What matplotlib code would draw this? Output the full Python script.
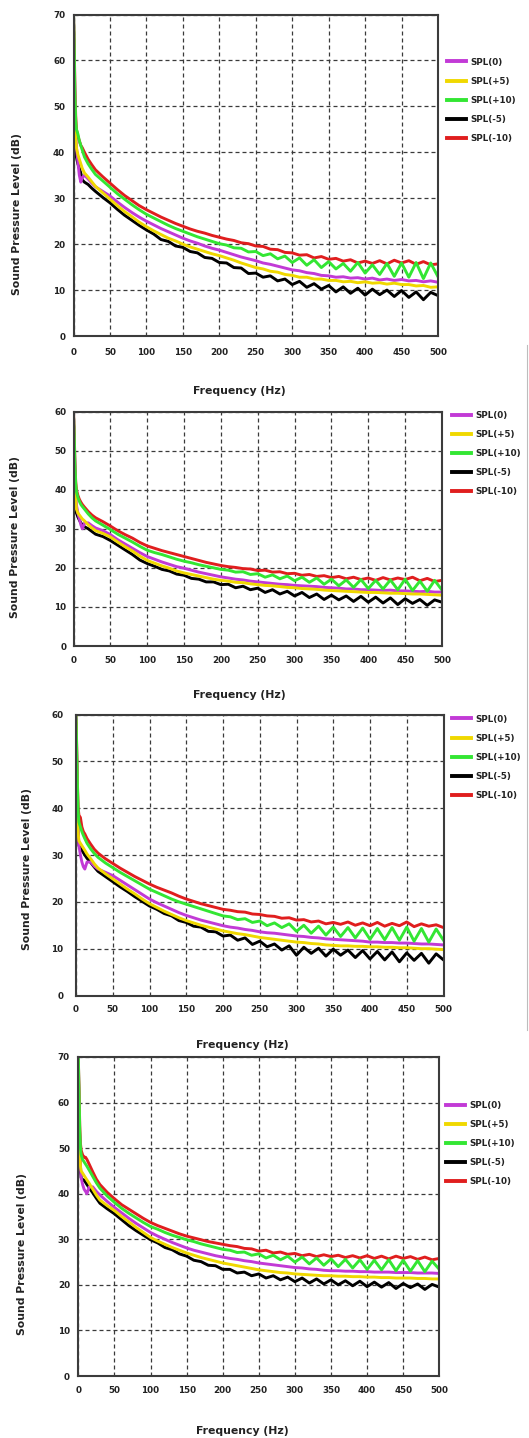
import matplotlib
matplotlib.use('Agg')
import matplotlib.pyplot as plt
from matplotlib.lines import Line2D

W, H = 529, 1438

FREQ = [0, 1, 2, 3, 4, 6, 8, 10, 12, 15, 20, 25, 30,
        40, 50, 60, 70, 80, 90, 100, 110, 120, 130, 140, 150, 160, 170, 180, 190, 200,
        210, 220, 230, 240, 250, 260, 270, 280, 290, 300, 310, 320, 330, 340, 350,
        360, 370, 380, 390, 400, 410, 420, 430, 440, 450, 460, 470, 480, 490, 500]

LABELS = ['SPL(0)', 'SPL(+5)', 'SPL(+10)', 'SPL(-5)', 'SPL(-10)']
X_TICKS = [0, 50, 100, 150, 200, 250, 300, 350, 400, 450, 500]
Y_MAX = [70, 60, 60, 70]

# ---- panel 1 ----
P1_SPL0 = [70, 60, 50, 44, 41, 38, 35, 33.5, 34.5, 35, 34.2, 33.3, 32.5,
           31.5, 30.5, 29.2, 28.0, 26.9, 25.9, 25.0, 24.2, 23.4, 22.7, 22.0, 21.3, 20.7, 20.2, 19.6, 19.1, 18.7,
           18.2, 17.7, 17.2, 16.8, 16.4, 15.9, 15.6, 15.2, 14.8, 14.4, 14.2, 13.8, 13.6, 13.2, 13.1,
           12.8, 12.9, 12.6, 12.7, 12.4, 12.6, 12.2, 12.4, 12.1, 12.3, 12.0, 12.1, 11.8, 12.0, 11.7]
P1_SPLP5 = [69, 58, 48, 43, 41, 39.5, 38.5, 37.5, 36.5, 35.5, 34.6, 33.6, 32.6,
            31.2, 29.8, 28.4, 27.1, 26.0, 24.8, 23.8, 22.9, 22.1, 21.3, 20.7, 20.0, 19.4, 18.9, 18.4, 17.9, 17.5,
            17.0, 16.5, 15.9, 15.4, 14.9, 14.6, 14.1, 13.9, 13.4, 13.2, 12.8, 12.8, 12.4, 12.4, 12.1,
            12.1, 11.8, 11.9, 11.6, 11.8, 11.5, 11.6, 11.3, 11.5, 11.2, 11.2, 10.9, 11.0, 10.6, 10.7]
P1_SPLP10 = [70.5, 62, 52, 47, 45, 44, 42.5, 41.5, 40.5, 39, 37.5, 36.3, 35.2,
             33.8, 32.4, 31.0, 29.8, 28.6, 27.5, 26.5, 25.7, 24.9, 24.1, 23.4, 22.8, 22.2, 21.6, 21.1, 20.6, 20.1,
             19.8, 19.2, 19.1, 18.3, 18.4, 17.5, 17.9, 16.8, 17.4, 16.0, 17.0, 15.4, 16.6, 14.9, 16.2,
             14.6, 15.8, 14.1, 16.0, 13.7, 15.5, 13.4, 15.8, 13.0, 15.9, 12.8, 16.0, 12.5, 15.9, 12.9]
P1_SPLM5 = [68, 57, 47, 42, 39, 37.5, 36.5, 35.5, 34, 33.5, 33, 32.2, 31.5,
            30.2, 29.0, 27.6, 26.3, 25.2, 24.1, 23.1, 22.2, 21.0, 20.6, 19.6, 19.3, 18.4, 18.1, 17.1, 16.9, 16.0,
            15.9, 14.9, 14.8, 13.6, 13.7, 12.8, 13.1, 12.0, 12.4, 11.2, 11.9, 10.6, 11.4, 10.2, 11.0,
            9.6, 10.7, 9.3, 10.4, 8.9, 10.2, 9.0, 10.0, 8.6, 9.9, 8.4, 9.6, 7.9, 9.5, 8.8]
P1_SPLM10 = [70, 63, 54, 48, 45, 43.5, 42.5, 41.5, 41, 40, 38.5, 37.3, 36.2,
             34.7, 33.3, 31.9, 30.6, 29.5, 28.4, 27.5, 26.7, 25.9, 25.2, 24.5, 23.9, 23.3, 22.8, 22.4, 21.9, 21.5,
             21.1, 20.8, 20.3, 20.1, 19.6, 19.5, 18.9, 18.8, 18.2, 18.1, 17.6, 17.7, 17.0, 17.3, 16.7,
             16.9, 16.3, 16.6, 15.9, 16.3, 15.8, 16.4, 15.7, 16.5, 15.9, 16.4, 15.6, 16.2, 15.5, 15.7]

# ---- panel 2 ----
P2_SPL0 = [59, 52, 44, 39, 36, 34, 32.5, 31, 30, 31.5, 31.5, 30.8, 30.2,
           29.5, 28.5, 27.2, 26.1, 25.0, 23.9, 22.9, 22.2, 21.5, 20.9, 20.3, 19.9, 19.4, 18.9, 18.5, 18.1, 17.7,
           17.4, 17.1, 16.9, 16.6, 16.4, 16.2, 16.0, 15.8, 15.7, 15.5, 15.4, 15.3, 15.2, 15.0, 14.9,
           14.8, 14.6, 14.6, 14.4, 14.4, 14.3, 14.2, 14.3, 14.1, 14.1, 14.0, 13.9, 14.0, 13.8, 13.8]
P2_SPLP5 = [58.5, 50, 42, 37.5, 35, 34, 33.5, 33, 32.5, 32, 31, 30.2, 29.5,
            28.8, 27.9, 26.6, 25.4, 24.3, 23.0, 21.9, 21.2, 20.5, 19.9, 19.2, 18.7, 18.3, 17.9, 17.5, 17.1, 16.8,
            16.6, 16.3, 16.2, 15.9, 15.7, 15.5, 15.4, 15.2, 15.0, 14.9, 14.7, 14.6, 14.5, 14.3, 14.2,
            14.1, 14.0, 13.9, 13.8, 13.7, 13.7, 13.6, 13.5, 13.5, 13.4, 13.3, 13.3, 13.2, 13.1, 13.0]
P2_SPLP10 = [59.5, 53, 46, 41.5, 39.5, 38, 37, 36.2, 35.7, 35, 33.8, 32.8, 32,
             30.9, 29.8, 28.6, 27.6, 26.6, 25.5, 24.5, 23.9, 23.4, 22.8, 22.2, 21.7, 21.3, 20.8, 20.4, 20.0, 19.6,
             19.4, 18.9, 19.0, 18.3, 18.5, 17.6, 18.2, 17.2, 17.9, 16.7, 17.6, 16.3, 17.4, 15.8, 17.1,
             15.4, 16.9, 15.0, 17.0, 14.7, 16.8, 14.6, 16.9, 14.4, 17.1, 14.2, 16.6, 14.0, 16.8, 14.3]
P2_SPLM5 = [58, 49, 41, 36.5, 34, 33, 32.2, 31.5, 31, 30.5, 30, 29.3, 28.6,
            28.0, 27.0, 25.8, 24.6, 23.4, 22.0, 21.1, 20.4, 19.6, 19.2, 18.4, 18.1, 17.3, 17.1, 16.4, 16.4, 15.7,
            15.8, 14.9, 15.3, 14.4, 14.8, 13.7, 14.4, 13.3, 14.0, 12.8, 13.7, 12.4, 13.3, 11.9, 13.0,
            11.8, 12.8, 11.4, 12.7, 11.2, 12.5, 11.0, 12.3, 10.6, 12.1, 10.9, 11.9, 10.4, 11.8, 11.2]
P2_SPLM10 = [60, 54, 47, 42, 40, 38.5, 37.5, 36.8, 36.2, 35.5, 34.4, 33.5, 32.8,
             31.8, 30.7, 29.5, 28.5, 27.6, 26.5, 25.6, 25.0, 24.4, 23.9, 23.4, 22.9, 22.4, 21.9, 21.4, 21.0, 20.6,
             20.3, 20.1, 19.8, 19.7, 19.3, 19.4, 18.9, 19.0, 18.5, 18.6, 18.1, 18.3, 17.8, 18.0, 17.5,
             17.8, 17.2, 17.6, 17.0, 17.4, 16.8, 17.5, 16.9, 17.4, 17.0, 17.6, 16.7, 17.3, 16.5, 16.8]

# ---- panel 3 ----
P3_SPL0 = [59, 50, 41, 35, 32, 30, 28.5, 27.5, 27, 28.5, 28.5, 27.6, 27,
           26.3, 25.6, 24.6, 23.6, 22.6, 21.6, 20.6, 19.8, 19.1, 18.4, 17.7, 17.1, 16.6, 16.1, 15.7, 15.3, 14.9,
           14.6, 14.4, 14.1, 13.9, 13.6, 13.4, 13.3, 13.1, 12.9, 12.7, 12.6, 12.4, 12.3, 12.1, 12.0,
           11.9, 11.8, 11.7, 11.6, 11.4, 11.4, 11.3, 11.3, 11.2, 11.2, 11.1, 11.0, 11.0, 10.9, 10.8]
P3_SPLP5 = [58.5, 49, 40, 34.5, 33, 32.5, 32, 31.5, 31, 30.2, 29.2, 28.1, 27.2,
            26.0, 24.9, 23.8, 22.7, 21.7, 20.6, 19.6, 18.8, 18.0, 17.3, 16.6, 16.0, 15.5, 15.0, 14.6, 14.2, 13.8,
            13.5, 13.2, 13.0, 12.7, 12.4, 12.2, 12.0, 11.8, 11.6, 11.4, 11.3, 11.1, 11.0, 10.8, 10.7,
            10.6, 10.6, 10.5, 10.5, 10.4, 10.4, 10.3, 10.3, 10.2, 10.2, 10.1, 10.0, 10.0, 9.9, 9.8]
P3_SPLP10 = [59.5, 52, 44, 39, 37, 36, 35, 34.2, 33.5, 32.5, 31.3, 30.3, 29.5,
             28.3, 27.3, 26.3, 25.4, 24.5, 23.6, 22.7, 22.0, 21.3, 20.6, 20.0, 19.5, 19.0, 18.5, 18.0, 17.5, 17.0,
             16.8, 16.2, 16.4, 15.6, 15.9, 14.9, 15.5, 14.5, 15.3, 13.7, 15.0, 13.3, 14.8, 12.9, 14.6,
             12.6, 14.5, 12.3, 14.4, 12.0, 14.3, 11.9, 14.5, 11.8, 14.6, 11.6, 14.3, 11.4, 14.2, 11.8]
P3_SPLM5 = [58, 48, 39, 34, 32, 31.5, 31, 30.5, 30, 29.3, 28.4, 27.4, 26.5,
            25.4, 24.3, 23.2, 22.2, 21.1, 20.1, 19.1, 18.4, 17.5, 17.0, 16.0, 15.6, 14.8, 14.6, 13.7, 13.6, 12.7,
            12.9, 11.8, 12.3, 10.9, 11.6, 10.4, 11.0, 9.7, 10.6, 8.6, 10.3, 9.0, 10.1, 8.4, 9.9,
            8.6, 9.7, 8.1, 9.6, 7.8, 9.4, 7.6, 9.3, 7.2, 9.1, 7.5, 9.0, 6.9, 8.9, 7.6]
P3_SPLM10 = [60, 53, 45, 40, 38.5, 38, 36, 35, 34.5, 33.5, 32.3, 31.2, 30.4,
             29.2, 28.2, 27.2, 26.3, 25.4, 24.6, 23.8, 23.1, 22.5, 21.9, 21.2, 20.6, 20.1, 19.6, 19.2, 18.8, 18.4,
             18.2, 17.9, 17.8, 17.4, 17.3, 17.0, 16.9, 16.5, 16.6, 16.1, 16.2, 15.7, 15.9, 15.3, 15.6,
             15.2, 15.7, 15.0, 15.5, 14.9, 15.6, 14.8, 15.4, 14.9, 15.7, 14.7, 15.3, 14.8, 15.1, 14.5]

# ---- panel 4 ----
P4_SPL0 = [69.5, 60, 51, 46, 43.5, 42, 41, 40.5, 40, 41.5, 41.5, 40.5, 39.7,
           38.3, 37.0, 35.8, 34.6, 33.5, 32.5, 31.5, 30.7, 30.0, 29.3, 28.7, 28.1, 27.6, 27.2, 26.8, 26.4, 26.1,
           25.8, 25.6, 25.3, 25.1, 24.8, 24.6, 24.4, 24.2, 24.0, 23.8, 23.7, 23.5, 23.4, 23.2, 23.1,
           23.1, 23.0, 23.0, 22.9, 22.9, 22.8, 22.8, 22.8, 22.7, 22.7, 22.7, 22.6, 22.6, 22.6, 22.5]
P4_SPLP5 = [69, 59, 50, 46, 45, 44.5, 44, 43.5, 43, 42.3, 41, 39.7, 38.6,
            37.4, 36.3, 35.0, 33.8, 32.6, 31.5, 30.4, 29.6, 28.9, 28.2, 27.6, 27.0, 26.5, 26.0, 25.6, 25.2, 24.8,
            24.5, 24.2, 23.9, 23.6, 23.3, 23.1, 22.9, 22.7, 22.6, 22.4, 22.3, 22.2, 22.1, 22.0, 22.0,
            21.9, 21.9, 21.8, 21.8, 21.7, 21.7, 21.6, 21.6, 21.5, 21.5, 21.5, 21.4, 21.4, 21.3, 21.3]
P4_SPLP10 = [70.5, 62, 54, 50, 48.5, 47.5, 47, 46.5, 46, 45.2, 43.8, 42.4, 41.2,
             39.5, 38.1, 36.8, 35.7, 34.7, 33.7, 32.8, 32.2, 31.5, 30.9, 30.4, 29.9, 29.5, 29.0, 28.6, 28.2, 27.8,
             27.6, 27.1, 27.2, 26.5, 26.8, 25.9, 26.5, 25.5, 26.3, 25.0, 26.1, 24.6, 25.9, 24.3, 25.7,
             24.0, 25.6, 23.7, 25.5, 23.4, 25.4, 23.3, 25.5, 23.1, 25.4, 23.0, 25.3, 22.9, 25.2, 23.4]
P4_SPLM5 = [68, 58, 49, 45, 43.5, 43, 43, 42.5, 42, 41.3, 40.2, 39, 37.9,
            36.7, 35.6, 34.3, 33.0, 31.9, 30.9, 29.9, 29.2, 28.2, 27.7, 26.8, 26.3, 25.4, 25.1, 24.3, 24.2, 23.4,
            23.4, 22.6, 22.8, 22.0, 22.4, 21.5, 22.0, 21.1, 21.7, 20.7, 21.5, 20.4, 21.3, 20.2, 21.1,
            20.0, 20.9, 19.8, 20.8, 19.6, 20.6, 19.5, 20.5, 19.2, 20.3, 19.4, 20.2, 19.0, 20.1, 19.5]
P4_SPLM10 = [70, 63, 55, 51, 49.5, 48.5, 48, 48, 47.5, 46.5, 44.8, 43.2, 42,
             40.3, 38.9, 37.6, 36.6, 35.6, 34.6, 33.7, 33.0, 32.4, 31.8, 31.2, 30.7, 30.3, 29.9, 29.5, 29.2, 28.9,
             28.6, 28.4, 28.0, 27.9, 27.4, 27.6, 27.0, 27.2, 26.7, 26.9, 26.4, 26.7, 26.2, 26.6, 26.2,
             26.5, 26.0, 26.4, 25.9, 26.4, 25.8, 26.3, 25.7, 26.3, 25.8, 26.2, 25.6, 26.1, 25.5, 25.8]

PANELS = [
    [P1_SPL0, P1_SPLP5, P1_SPLP10, P1_SPLM5, P1_SPLM10],
    [P2_SPL0, P2_SPLP5, P2_SPLP10, P2_SPLM5, P2_SPLM10],
    [P3_SPL0, P3_SPLP5, P3_SPLP10, P3_SPLM5, P3_SPLM10],
    [P4_SPL0, P4_SPLP5, P4_SPLP10, P4_SPLM5, P4_SPLM10],
]

COLORS = ['#c23ad6', '#f0d800', '#33e633', '#000000', '#e01e1e']
ZORDERS = [2.2, 2.3, 2.4, 2.0, 2.1]

# layout in pixels: (left, top, right, bottom), ylabel (x, y), xlabel (x, y), legend anchor (x, y), xpad, ypad
LAYOUT = [
    dict(box=(73.5, 14.5, 438, 336), ylab=(17, 214), xlab=(239.5, 390.5), leg=(447, 57.5), xpad=8.5, ypad=6),
    dict(box=(73.5, 411.5, 442, 646), ylab=(15, 537), xlab=(239.5, 695), leg=(452, 411), xpad=7, ypad=5),
    dict(box=(76, 714.5, 443.5, 995.5), ylab=(27, 869), xlab=(242, 1045), leg=(452, 714.5), xpad=6.5, ypad=9),
    dict(box=(78.3, 1057, 439.3, 1376), ylab=(22, 1254), xlab=(242, 1431), leg=(446, 1101), xpad=7.5, ypad=6),
]

TXT = '#222222'
GRIDC = '#3a3a3a'

fig = plt.figure(figsize=(W / 100, H / 100), dpi=100)
fig.patch.set_facecolor('white')

for pi, (series, lay, ymax) in enumerate(zip(PANELS, LAYOUT, Y_MAX)):
    l, t, r, b = lay['box']
    ax = fig.add_axes([l / W, 1 - b / H, (r - l) / W, (b - t) / H])
    handles = []
    for vals, col, zo, lab in zip(series, COLORS, ZORDERS, LABELS):
        ax.plot(FREQ, vals, color=col, lw=2.1, zorder=zo, solid_joinstyle='round')
        handles.append(Line2D([], [], color=col, lw=2.8, label=lab))
    ax.set_xlim(0, 500)
    ax.set_ylim(0, ymax)
    ax.set_xticks(X_TICKS)
    ax.set_yticks(list(range(0, ymax + 1, 10)))
    ax.grid(True, color=GRIDC, lw=0.9, ls=(0, (3.2, 2.4)), zorder=1)
    ax.set_axisbelow(True)
    for sp in ax.spines.values():
        sp.set_color('#3c3c3c')
        sp.set_linewidth(1.5)
    ax.tick_params(axis='x', length=0, pad=lay['xpad'], labelsize=6.3, colors=TXT)
    ax.tick_params(axis='y', length=0, pad=lay['ypad'], labelsize=6.3, colors=TXT)
    for tl in ax.get_xticklabels() + ax.get_yticklabels():
        tl.set_fontweight('bold')
    fig.text(lay['ylab'][0] / W, 1 - lay['ylab'][1] / H, 'Sound Pressure Level (dB)',
             rotation=90, ha='center', va='center', fontsize=7.8, fontweight='bold', color=TXT)
    fig.text(lay['xlab'][0] / W, 1 - lay['xlab'][1] / H, 'Frequency (Hz)',
             ha='center', va='center', fontsize=7.8, fontweight='bold', color=TXT)
    leg = ax.legend(handles=handles, loc='upper left',
                    bbox_to_anchor=(lay['leg'][0] / W, 1 - lay['leg'][1] / H),
                    bbox_transform=fig.transFigure, frameon=False,
                    prop={'size': 6.3, 'weight': 'bold'},
                    handlelength=2.2, handletextpad=0.45, labelspacing=1.15,
                    borderpad=0, borderaxespad=0)
    for txt in leg.get_texts():
        txt.set_color(TXT)

# thin border line at the right edge, as in the reference
fig.add_artist(Line2D([527 / W, 527 / W], [1 - 345 / H, 1 - 1030 / H],
                      transform=fig.transFigure, color='#bdbdbd', lw=0.8))

fig.savefig('out.png', dpi=100, facecolor='white')
